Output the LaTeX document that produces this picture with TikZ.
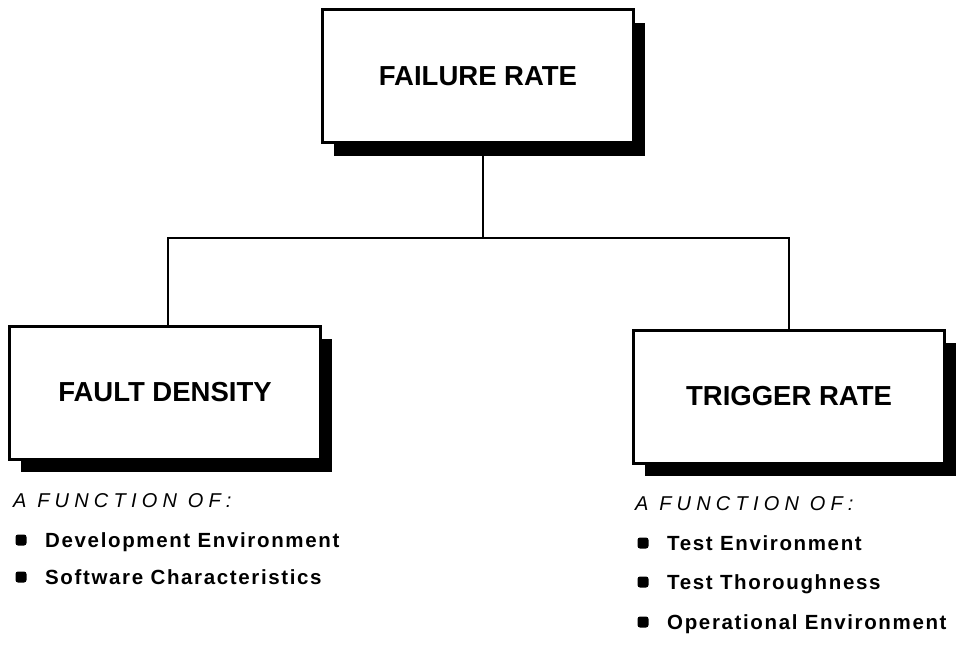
\documentclass[tikz,border=0pt]{standalone}
\usepackage{fontspec}
\setmainfont{Liberation Sans}
\usetikzlibrary{shadows}
\begin{document}
\begin{tikzpicture}[x=1pt,y=-1pt,
  box/.style={draw, line width=3pt, fill=white, minimum width=311pt, minimum height=133pt,
    inner sep=0pt, font=\bfseries\fontsize{27.5}{27.5}\selectfont,
    general shadow={fill=black, shadow xshift=11pt, shadow yshift=-13pt}},
  conn/.style={line width=2.5pt},
  head/.style={anchor=base west, inner sep=0pt, font=\itshape\fontsize{20}{20}\selectfont\addfontfeatures{LetterSpace=26}},
  item/.style={anchor=base west, inner sep=0pt, font=\bfseries\fontsize{20.5}{20.5}\selectfont\addfontfeatures{LetterSpace=8}},
  bul/.style={fill=black, rounded corners=2.5pt, minimum width=11pt, minimum height=11pt, inner sep=0pt}]
\useasboundingbox (0,0) rectangle (963,647);
\node[box] (top) at (478,76.5) {FAILURE RATE};
\node[box] (left) at (165,392.5) {FAULT DENSITY};
\node[box] (right) at (789,396.5) {TRIGGER RATE};
\coordinate (hub) at (483,238);
\coordinate (jl) at (168,238);
\coordinate (jr) at (789,238);
\draw[conn] (top.south -| hub) -- (hub);
\draw[conn] (left.north -| jl) -- (jl) -- (jr) -- (right.north -| jr);
% left list
\node[head] (lh) at (13,507) {A FUNCTION OF:};
\node[bul] (lb1) at (21,540) {};
\node[item] (li1) at (45,547.5) {Development Environment};
\node[bul] (lb2) at (21,577) {};
\node[item] (li2) at (45,584.5) {Software Characteristics};
% right list
\node[head] (rh) at (635,510.5) {A FUNCTION OF:};
\node[bul] (rb1) at (643,543) {};
\node[item] (ri1) at (667,550.5) {Test Environment};
\node[bul] (rb2) at (643,582) {};
\node[item] (ri2) at (667,589.5) {Test Thoroughness};
\node[bul] (rb3) at (643,622) {};
\node[item] (ri3) at (667,629.5) {Operational Environment};
\end{tikzpicture}
\end{document}
